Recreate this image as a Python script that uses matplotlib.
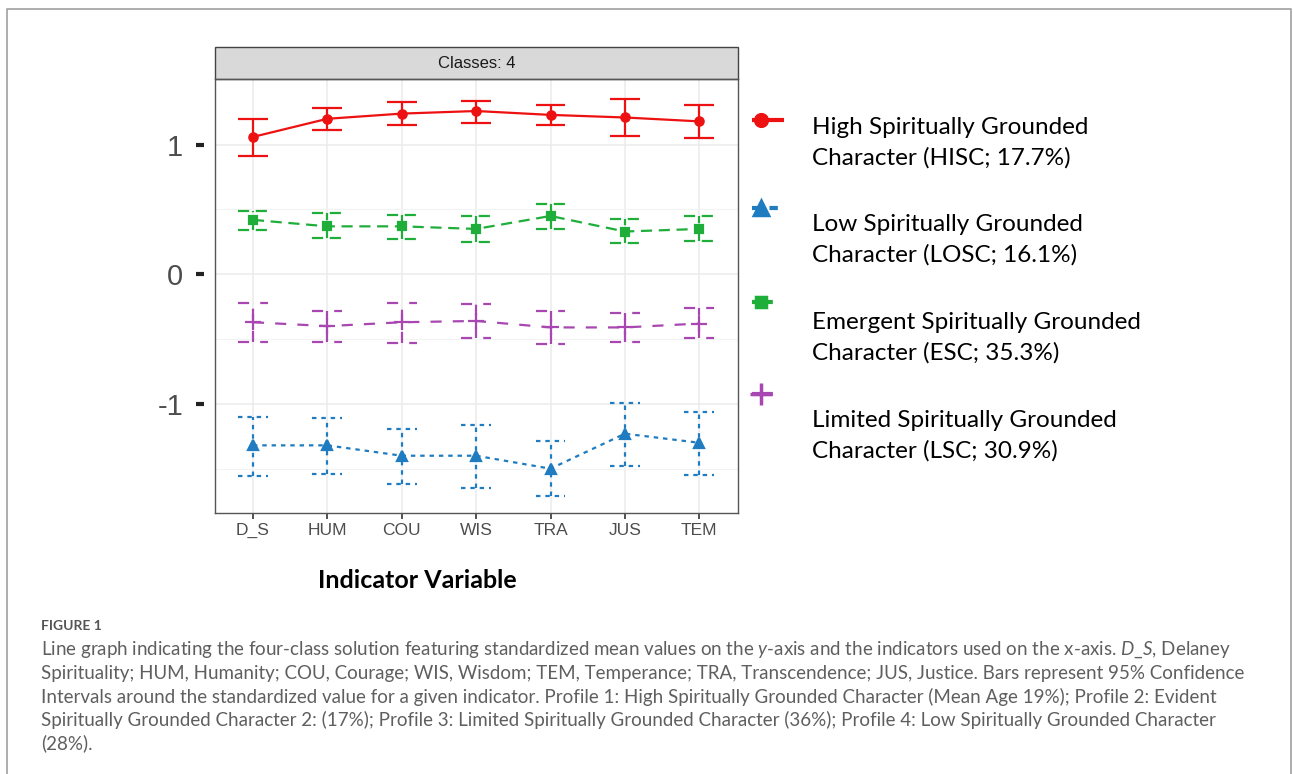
#line graph of the four-class LPA solution (standardized means with 95% CI)
import matplotlib
matplotlib.use("Agg")
import matplotlib.pyplot as plt
from matplotlib.lines import Line2D
from matplotlib.patches import Rectangle
import matplotlib.transforms as mtransforms

plt.rcParams['axes.unicode_minus'] = False
plt.rcParams['mathtext.fontset'] = 'custom'
plt.rcParams['mathtext.rm'] = 'Lato'
plt.rcParams['mathtext.it'] = 'Lato:italic'

indicators = ["D_S", "HUM", "COU", "WIS", "TRA", "JUS", "TEM"]

hisc_mean = [1.06, 1.20, 1.24, 1.26, 1.23, 1.21, 1.18]
hisc_low = [0.91, 1.11, 1.15, 1.17, 1.15, 1.07, 1.05]
hisc_high = [1.20, 1.28, 1.33, 1.34, 1.31, 1.35, 1.31]

esc_mean = [0.42, 0.37, 0.37, 0.35, 0.45, 0.33, 0.35]
esc_low = [0.34, 0.28, 0.27, 0.25, 0.35, 0.24, 0.26]
esc_high = [0.49, 0.47, 0.46, 0.45, 0.54, 0.43, 0.45]

lsc_mean = [-0.37, -0.40, -0.37, -0.36, -0.41, -0.41, -0.38]
lsc_low = [-0.52, -0.52, -0.53, -0.49, -0.54, -0.52, -0.49]
lsc_high = [-0.22, -0.28, -0.22, -0.23, -0.28, -0.30, -0.26]

losc_mean = [-1.32, -1.32, -1.40, -1.40, -1.50, -1.23, -1.30]
losc_low = [-1.56, -1.54, -1.62, -1.65, -1.71, -1.48, -1.55]
losc_high = [-1.10, -1.11, -1.19, -1.16, -1.29, -0.99, -1.06]

y_ticks = [-1, 0, 1]
y_ticklabels = ["-1", "0", "1"]

legend_lines = [["High Spiritually Grounded", "Character (HISC; 17.7%)"],
                ["Low Spiritually Grounded", "Character (LOSC; 16.1%)"],
                ["Emergent Spiritually Grounded", "Character (ESC; 35.3%)"],
                ["Limited Spiritually Grounded", "Character (LSC; 30.9%)"]]

caption = ["Line graph indicating the four-class solution featuring standardized mean values on the $\\mathit{y}$-axis and the indicators used on the x-axis. $\\mathit{D\\_S}$, Delaney",
           "Spirituality; HUM, Humanity; COU, Courage; WIS, Wisdom; TEM, Temperance; TRA, Transcendence; JUS, Justice. Bars represent 95% Confidence",
           "Intervals around the standardized value for a given indicator. Profile 1: High Spiritually Grounded Character (Mean Age 19%); Profile 2: Evident",
           "Spiritually Grounded Character 2: (17%); Profile 3: Limited Spiritually Grounded Character (36%); Profile 4: Low Spiritually Grounded Character",
           "(28%)."]

W, H = 1293, 774

def fx(x):
    return x / W

def fy(y):
    return 1 - y / H

fig = plt.figure(figsize=(W / 100, H / 100), dpi=100)

# outer frame (open at the bottom)
fig.add_artist(Line2D([fx(7), fx(7), fx(1291), fx(1291)], [0, fy(9), fy(9), 0],
                      color="#a0a0a0", lw=1.2))

ax = fig.add_axes([fx(215), fy(513), fx(738) - fx(215), fy(79) - fy(513)])

xs = list(range(1, len(indicators) + 1))
cap = 0.2

series = [
    (hisc_mean, hisc_low, hisc_high, "#ee1111", "o", (0, ()), 6, "HISC"),
    (losc_mean, losc_low, losc_high, "#1f7cc0", "^", (0, (2, 2.2)), 7, "LOSC"),
    (esc_mean, esc_low, esc_high, "#1fae3a", "s", (0, (5, 3)), 5.5, "ESC"),
    (lsc_mean, lsc_low, lsc_high, "#a847b2", "+", (0, (5, 5)), 11, "LSC"),
]

for mean, lo, hi, col, mk, ls, ms, name in series:
    ax.plot(xs, mean, color=col, ls=ls, lw=1.6, marker=mk, ms=ms, mew=1.6, zorder=3)
    ax.vlines(xs, lo, hi, colors=col, linestyles=[ls], lw=1.6, zorder=3)
    ax.hlines(lo, [x - cap for x in xs], [x + cap for x in xs], colors=col, linestyles=[ls], lw=1.6, zorder=3)
    ax.hlines(hi, [x - cap for x in xs], [x + cap for x in xs], colors=col, linestyles=[ls], lw=1.6, zorder=3)

ax.set_xlim(0.49, 7.52)
ax.set_ylim(-1.842, 1.507)
ax.set_xticks(xs)
ax.set_xticklabels(indicators, family="Liberation Sans", fontsize=12.5, color="#4d4d4d")
ax.set_yticks(y_ticks)
ax.set_yticklabels(y_ticklabels, family="Liberation Sans", fontsize=21, color="#4d4d4d")
ax.set_yticks([-1.5, -0.5, 0.5], minor=True)
ax.tick_params(axis="y", which="major", length=0, pad=23)
ax.tick_params(axis="y", which="minor", length=0)
ax.tick_params(axis="x", length=4, width=1.2, color="#333333", pad=3)
ax.grid(True, which="major", color="#ebebeb", lw=1.1)
ax.grid(True, which="minor", axis="y", color="#f3f3f3", lw=0.8)
ax.set_axisbelow(True)
for sp in ax.spines.values():
    sp.set_color("#555555")
    sp.set_linewidth(1.0)

# y tick dashes sit a little away from the panel, as in the pasted figure
tick_tr = mtransforms.blended_transform_factory(ax.transAxes, ax.transData)
ax.plot([-15 / 523] * len(y_ticks), y_ticks, transform=tick_tr, ls="none", marker="_",
        ms=6, mew=3, color="#222222", clip_on=False)

# facet strip
strip_h = (79 - 47) / (513 - 79)
ax.add_patch(Rectangle((0, 1), 1, strip_h, transform=ax.transAxes, facecolor="#d9d9d9",
                       edgecolor="#444444", lw=1.0, clip_on=False))
ax.text(0.5, 1 + strip_h / 2, "Classes: 4", transform=ax.transAxes, ha="center", va="center",
        family="Liberation Sans", fontsize=12, color="#1a1a1a")

fig.text(fx(417), fy(580), "Indicator Variable", ha="center", va="center",
         family="Lato", fontweight="bold", fontsize=18, color="black")

# legend drawn by hand to match the pasted key layout
key_y = [120, 208, 302, 394]
text_y = [143, 240, 338, 436]
for (mean, lo, hi, col, mk, ls, ms, name), ky, ty, lines in zip(series, key_y, text_y, legend_lines):
    fig.add_artist(Line2D([fx(752), fx(784)], [fy(ky), fy(ky)], color=col, ls=ls, lw=3))
    fig.add_artist(Line2D([fx(761)], [fy(ky)], color=col, marker=mk, ms=ms * 1.4, mew=2.5, ls="none"))
    fig.text(fx(812), fy(ty), "\n".join(lines), ha="left", va="center", family="Lato",
             fontsize=17.5, color="black", linespacing=1.55)

# figure caption
fig.text(fx(41), fy(626), "FIGURE 1", ha="left", va="center", family="Lato",
         fontweight="bold", fontsize=10, color="#555555")
for i, line in enumerate(caption):
    fig.text(fx(41), fy(650 + 23.3 * i), line, ha="left", va="center", family="Lato",
             fontsize=13.5, color="#5f5f5f")

fig.savefig("out.png", dpi=100)
